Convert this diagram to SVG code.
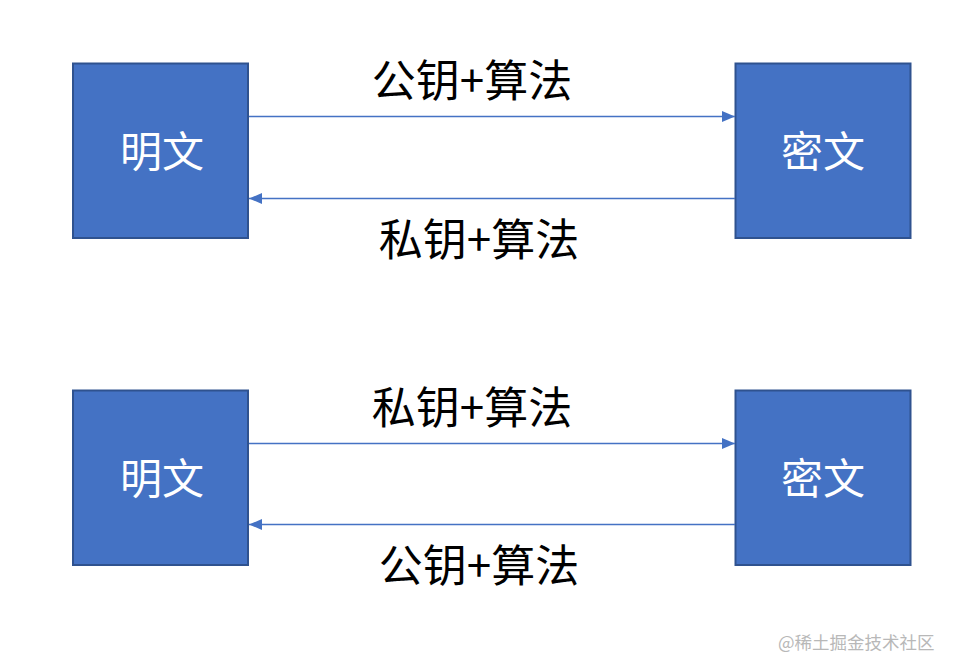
<svg xmlns="http://www.w3.org/2000/svg" width="958" height="672" viewBox="0 0 958 672">
<style>
.box{fill:#4472C4;stroke:#2F528F;stroke-width:2}
.bt{font-family:"Noto Sans CJK SC","Liberation Sans",sans-serif;font-size:42px;fill:#fff;text-anchor:middle}
.lbl{font-family:"Noto Sans CJK SC","Liberation Sans",sans-serif;font-size:44px;fill:#000;text-anchor:middle}
.ln{stroke:#4472C4;stroke-width:1.3;fill:none}
.wm{font-family:"Noto Sans CJK SC","Liberation Sans",sans-serif;font-size:17.5px;fill:#b8b8b8}
</style>
<defs>
<marker id="ah" markerWidth="13" markerHeight="11" refX="13" refY="5.5" orient="auto" markerUnits="userSpaceOnUse">
<path d="M0,0 L13,5.5 L0,11 Z" fill="#4472C4"/>
</marker>
</defs>
<rect width="958" height="672" fill="#fff"/>
<g id="plain1"><rect class="box" x="73" y="63.5" width="175" height="174.5"/><text class="bt" x="162" y="167">明文</text></g>
<g id="cipher1"><rect class="box" x="735.5" y="63.5" width="175" height="174.5"/><text class="bt" x="823" y="167">密文</text></g>
<g id="plain2"><rect class="box" x="73" y="390.5" width="175" height="174.5"/><text class="bt" x="162" y="494">明文</text></g>
<g id="cipher2"><rect class="box" x="735.5" y="390.5" width="175" height="174.5"/><text class="bt" x="823" y="494">密文</text></g>
<g id="connectors">
<line class="ln" x1="249" y1="116.5" x2="735" y2="116.5" marker-end="url(#ah)"/>
<line class="ln" x1="735" y1="198.5" x2="249" y2="198.5" marker-end="url(#ah)"/>
<line class="ln" x1="249" y1="443.5" x2="735" y2="443.5" marker-end="url(#ah)"/>
<line class="ln" x1="735" y1="524.5" x2="249" y2="524.5" marker-end="url(#ah)"/>
</g>
<g id="labels">
<text class="lbl" x="472" y="97">公钥+算法</text>
<text class="lbl" x="479" y="256">私钥+算法</text>
<text class="lbl" x="472" y="424">私钥+算法</text>
<text class="lbl" x="479" y="582">公钥+算法</text>
</g>
<text class="wm" x="778" y="649">@稀土掘金技术社区</text>
</svg>
